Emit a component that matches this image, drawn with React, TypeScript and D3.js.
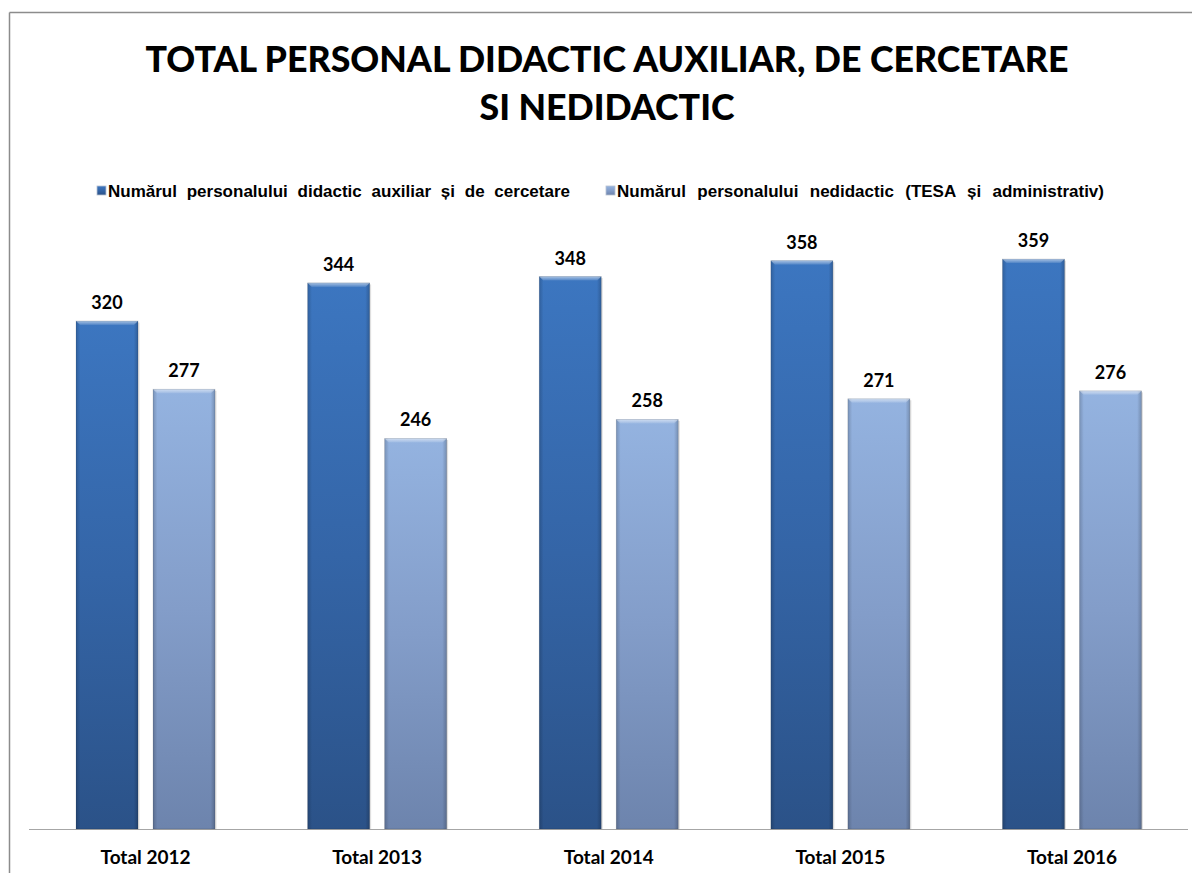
import React, { useLayoutEffect, useRef, useState } from "react";
import * as d3 from "d3";

const categories = ["Total 2012", "Total 2013", "Total 2014", "Total 2015", "Total 2016"];
const seriesNames = [
  "Numărul personalului didactic auxiliar și de cercetare",
  "Numărul personalului nedidactic (TESA și administrativ)",
];
const auxiliarValues = [320, 344, 348, 358, 359];
const nedidacticValues = [277, 246, 258, 271, 276];
const titleLines = ["TOTAL PERSONAL DIDACTIC AUXILIAR, DE CERCETARE", "SI NEDIDACTIC"];

const W = 1192;
const H = 873;
const baseY = 829;

export default function App() {
  const x = d3.scaleBand<string>().domain(categories).range([29.7, 1187.8]).paddingInner(0).paddingOuter(0);
  const y = d3.scaleLinear().domain([0, 400]).range([baseY, baseY - 635]);
  const barW = 62;
  const gap = 15;
  const series = [
    { name: seriesNames[0], values: auxiliarValues, grad: "gDark", off: -(gap / 2 + barW), lx: 97, target: 462 },
    { name: seriesNames[1], values: nedidacticValues, grad: "gLight", off: gap / 2, lx: 606, target: 487 },
  ];
  const font = "Lato, 'Open Sans', sans-serif";
  const legendFont = "'Liberation Sans', Arial, sans-serif";

  const legendRefs = [useRef<SVGTextElement>(null), useRef<SVGTextElement>(null)];
  const [wordSp, setWordSp] = useState<number[]>([0, 0]);
  useLayoutEffect(() => {
    const sp = legendRefs.map((r, i) => {
      const el = r.current;
      if (!el) return 0;
      const len = el.getComputedTextLength();
      const n = series[i].name.split(" ").length - 1;
      return Math.max(0, (series[i].target - len) / n);
    });
    setWordSp(sp);
  }, []);

  return (
    <svg width={W} height={H} style={{ position: "absolute", left: 0, top: 0, background: "#fff" }}>
      <defs>
        <linearGradient id="gDark" x1="0" y1="0" x2="0" y2="1">
          <stop offset="0" stopColor="#3c76c0" />
          <stop offset="0.5" stopColor="#3465a7" />
          <stop offset="1" stopColor="#2b5288" />
        </linearGradient>
        <linearGradient id="gLight" x1="0" y1="0" x2="0" y2="1">
          <stop offset="0" stopColor="#94b3e0" />
          <stop offset="0.5" stopColor="#839dc9" />
          <stop offset="1" stopColor="#6d84ad" />
        </linearGradient>
        <linearGradient id="gSide" x1="0" y1="0" x2="1" y2="0">
          <stop offset="0" stopColor="#000" stopOpacity="0.18" />
          <stop offset="0.07" stopColor="#000" stopOpacity="0" />
          <stop offset="0.93" stopColor="#000" stopOpacity="0" />
          <stop offset="1" stopColor="#000" stopOpacity="0.2" />
        </linearGradient>
        <linearGradient id="gTop" x1="0" y1="0" x2="0" y2="1">
          <stop offset="0" stopColor="#fff" stopOpacity="0.55" />
          <stop offset="1" stopColor="#fff" stopOpacity="0.1" />
        </linearGradient>
      </defs>

      {/* outer border */}
      <line x1={9.5} y1={12.5} x2={W} y2={12.5} stroke="#8c8c8c" strokeWidth={1.5} />
      <line x1={9.5} y1={12.5} x2={9.5} y2={H} stroke="#8c8c8c" strokeWidth={1.5} />

      {/* title */}
      {titleLines.map((t, i) => (
        <text key={i} x={607} y={72 + i * 48} textAnchor="middle" fontFamily={font} fontWeight="900" fontSize={35.7} fill="#000">
          {t}
        </text>
      ))}

      {/* legend */}
      {series.map((s, i) => (
        <g key={i}>
          <rect x={s.lx} y={186} width={9} height={9} fill={`url(#${s.grad})`} stroke="#b8c2d2" strokeWidth={0.8} />
          <text
            ref={legendRefs[i]}
            x={s.lx + 11}
            y={196.5}
            fontFamily={legendFont}
            fontWeight="bold"
            fontSize={17}
            fill="#000"
            style={{ wordSpacing: `${wordSp[i]}px` }}
          >
            {s.name}
          </text>
        </g>
      ))}

      {/* axis line */}
      <line x1={29} y1={baseY + 0.5} x2={1188} y2={baseY + 0.5} stroke="#a6a6a6" strokeWidth={1} />

      {/* bars */}
      {categories.map((c, ci) => {
        const cx = (x(c) as number) + x.bandwidth() / 2;
        return (
          <g key={c}>
            {series.map((s, si) => {
              const v = s.values[ci];
              const bx = cx + s.off;
              const by = y(v);
              const bh = baseY - by;
              return (
                <g key={si}>
                  <rect x={bx + 1.5} y={by + 1.5} width={barW} height={bh - 1.5} fill="#000" opacity={0.12} />
                  <rect x={bx} y={by} width={barW} height={bh} fill={`url(#${s.grad})`} />
                  <rect x={bx} y={by} width={barW} height={bh} fill="url(#gSide)" />
                  <polygon
                    points={`${bx},${by} ${bx + barW},${by} ${bx + barW - 4},${by + 4} ${bx + 4},${by + 4}`}
                    fill="url(#gTop)"
                  />
                  <rect x={bx} y={by} width={barW} height={bh} fill="none" stroke="#000" strokeOpacity={0.15} strokeWidth={0.8} />
                  <text x={bx + barW / 2} y={by - 12} textAnchor="middle" fontFamily={font} fontWeight="bold" fontSize={18} fill="#000">
                    {v}
                  </text>
                </g>
              );
            })}
            <text x={cx} y={864} textAnchor="middle" fontFamily={font} fontWeight="bold" fontSize={19} fill="#000">
              {c}
            </text>
          </g>
        );
      })}
    </svg>
  );
}
